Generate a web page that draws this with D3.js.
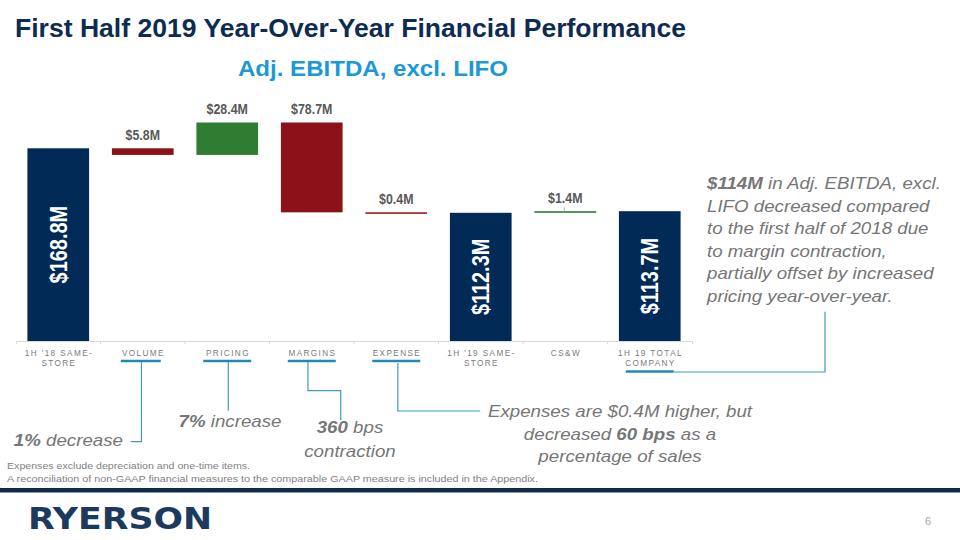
<!DOCTYPE html>
<html>
<head>
<meta charset="utf-8">
<script src="https://cdn.jsdelivr.net/npm/d3@7"></script>
<style>
  html, body { margin: 0; padding: 0; background: #fff; }
  svg { display: block; font-family: "Liberation Sans", Arial, sans-serif; }
</style>
</head>
<body>
<svg id="chart" width="960" height="540"></svg>
<script>
// ---------- DATA ----------
const categories = ["1H '18 SAME-STORE", "VOLUME", "PRICING", "MARGINS", "EXPENSE", "1H '19 SAME-STORE", "CS&W", "1H 19 TOTAL COMPANY"];
const categoryLines = [["1H '18 SAME-", "STORE"], ["VOLUME"], ["PRICING"], ["MARGINS"], ["EXPENSE"], ["1H '19 SAME-", "STORE"], ["CS&W"], ["1H 19 TOTAL", "COMPANY"]];
const barTypes = ["total", "delta", "delta", "delta", "delta", "total", "delta", "total"];
const values = [168.8, -5.8, 28.4, -78.7, -0.4, 112.3, 1.4, 113.7];
const underlined = ["VOLUME", "PRICING", "MARGINS", "EXPENSE", "1H 19 TOTAL COMPANY"];

const titleText = "First Half 2019 Year-Over-Year Financial Performance";
const subtitleText = "Adj. EBITDA, excl. LIFO";
const footnotes = ["Expenses exclude depreciation and one-time items.",
  "A reconciliation of non-GAAP financial measures to the comparable GAAP measure is included in the Appendix."];
const calloutRight = [
  [["$114M", true], [" in Adj. EBITDA, excl.", false]],
  [["LIFO decreased compared", false]],
  [["to the first half of 2018 due", false]],
  [["to margin contraction,", false]],
  [["partially offset by increased", false]],
  [["pricing year-over-year.", false]]
];
const calloutVolume = [[["1%", true], [" decrease", false]]];
const calloutPricing = [[["7%", true], [" increase", false]]];
const calloutMargins = [[["360", true], [" bps", false]], [["contraction", false]]];
const calloutExpense = [
  [["Expenses are $0.4M higher, but", false]],
  [["decreased ", false], ["60 bps", true], [" as a", false]],
  [["percentage of sales", false]]
];

// ---------- STYLE ----------
const NAVY = "#022a56", RED = "#8c1217", GREEN = "#2f7d32";
const GRAY = "#767676", LABEL = "#595959", BLUE = "#2488b6", BLUE2 = "#3a9cc2";

const svg = d3.select("#chart");

// squeeze / stretch text horizontally by factor
function condense(sel, f) {
  sel.each(function () {
    const len = this.getComputedTextLength();
    d3.select(this).attr("textLength", len * f).attr("lengthAdjust", "spacingAndGlyphs");
  });
}

// ---------- SCALES ----------
const x = d3.scaleBand().domain(categories).range([16, 692]).paddingInner(0.27).paddingOuter(0.135);
const y = d3.scaleLinear().domain([0, 175]).range([341, 341 - 175 * 1.1416]);
const cx = c => x(c) + x.bandwidth() / 2;

// waterfall computation
let running = 0;
const bars = categories.map((c, i) => {
  let y0, y1;
  if (barTypes[i] === "total") { y0 = 0; y1 = values[i]; running = values[i]; }
  else { y0 = running; y1 = running + values[i]; running = y1; }
  const color = barTypes[i] === "total" ? NAVY : (values[i] < 0 ? RED : GREEN);
  return { c, i, y0, y1, v: values[i], type: barTypes[i], color };
});

// ---------- TITLES ----------
svg.append("text").attr("x", 15).attr("y", 37).attr("font-size", 25.5).attr("font-weight", "bold")
  .attr("fill", "#0e2c52").attr("textLength", 671).attr("lengthAdjust", "spacingAndGlyphs").text(titleText);
svg.append("text").attr("x", 238).attr("y", 76).attr("font-size", 22).attr("font-weight", "bold")
  .attr("fill", "#1c99d4").attr("textLength", 270).attr("lengthAdjust", "spacingAndGlyphs").text(subtitleText);

// ---------- AXIS ----------
const axisG = svg.append("g").attr("transform", "translate(0,341)")
  .call(d3.axisBottom(x).tickValues([]).tickSizeOuter(3));
axisG.select(".domain").attr("stroke", "#d9d9d9").attr("stroke-width", 1);
const step = x.step();
svg.append("g").selectAll("line").data(categories.slice(1)).join("line")
  .attr("x1", d => x(d) - step * x.paddingInner() / 2).attr("x2", d => x(d) - step * x.paddingInner() / 2)
  .attr("y1", 341).attr("y2", 344).attr("stroke", "#d9d9d9");

// ---------- BARS ----------
svg.append("g").selectAll("rect").data(bars).join("rect")
  .attr("x", d => x(d.c)).attr("width", x.bandwidth())
  .attr("y", d => Math.min(y(d.y0), y(d.y1)))
  .attr("height", d => Math.max(Math.abs(y(d.y0) - y(d.y1)), 1.5))
  .attr("fill", d => d.color);

const fmt = v => "$" + Math.abs(v).toFixed(1) + "M";

// delta labels above
const dl = svg.append("g").selectAll("text").data(bars.filter(d => d.type === "delta")).join("text")
  .attr("x", d => cx(d.c)).attr("y", d => Math.min(y(d.y0), y(d.y1)) - 8)
  .attr("text-anchor", "middle").attr("font-size", 15.5).attr("font-weight", "bold")
  .attr("fill", LABEL).text(d => fmt(d.v));
condense(dl, 0.8);

// small leader for CS&W label
bars.filter(d => d.c === "CS&W").forEach(d => {
  svg.append("line").attr("x1", cx(d.c) - 1).attr("x2", cx(d.c) - 1)
    .attr("y1", Math.min(y(d.y0), y(d.y1)) - 4).attr("y2", Math.min(y(d.y0), y(d.y1)))
    .attr("stroke", "#a6a6a6").attr("stroke-width", 0.8);
});

// total labels inside (rotated)
const tl = svg.append("g").selectAll("text").data(bars.filter(d => d.type === "total")).join("text")
  .attr("transform", d => `translate(${cx(d.c)},${(y(d.y0) + y(d.y1)) / 2}) rotate(-90)`)
  .attr("text-anchor", "middle").attr("dy", "0.36em").attr("font-size", 24).attr("font-weight", "bold")
  .attr("fill", "#fff").text(d => fmt(d.v));
condense(tl, 0.83);

// ---------- CATEGORY LABELS ----------
const catG = svg.append("g");
categories.forEach((c, i) => {
  categoryLines[i].forEach((ln, j) => {
    catG.append("text").attr("x", cx(c) + 0.7).attr("y", 356 + j * 10)
      .attr("text-anchor", "middle").attr("font-size", 8.2).attr("letter-spacing", 1.4)
      .attr("fill", "#7a7a7a").text(ln);
  });
});

// underlines
underlined.forEach(c => {
  const i = categories.indexOf(c);
  const ly = 361 + (categoryLines[i].length - 1) * 10.5;
  const hw = c === "VOLUME" ? 20 : 24;
  const off = c === "VOLUME" ? 2 : 0;
  svg.append("line").attr("x1", cx(c) - hw - off).attr("x2", cx(c) + hw - off)
    .attr("y1", ly).attr("y2", ly).attr("stroke", BLUE).attr("stroke-width", 2.4);
});

// connectors
function conn(points) {
  svg.append("path").attr("d", d3.line()(points)).attr("fill", "none")
    .attr("stroke", BLUE2).attr("stroke-width", 1.2);
}
const cV = cx("VOLUME"), cP = cx("PRICING"), cM = cx("MARGINS"), cE = cx("EXPENSE"), cT = cx("1H 19 TOTAL COMPANY");
conn([[cV - 1.3, 362], [cV - 1.3, 441.7], [cV - 12, 441.7]]);
conn([[cP + 1, 362], [cP + 1, 410.7]]);
conn([[cM - 3.8, 362], [cM - 3.8, 390.7], [cM + 29, 390.7], [cM + 29, 420]]);
conn([[cE + 1.6, 363], [cE + 1.6, 411], [cE + 84, 411]]);
conn([[cT + 24, 372], [825, 372], [825, 311.7]]);

// ---------- CALLOUT TEXT ----------
function rich(lines, xPos, y0, lh, anchor, size, stretch) {
  lines.forEach((segs, k) => {
    const t = svg.append("text").attr("x", xPos).attr("y", y0 + k * lh)
      .attr("text-anchor", anchor).attr("font-size", size).attr("font-style", "italic").attr("fill", GRAY);
    segs.forEach(([s, b]) => {
      t.append("tspan").attr("font-weight", b ? "bold" : "normal").text(s);
    });
    condense(t, stretch);
  });
}
rich(calloutVolume, 123, 446, 22, "end", 17, 1.1);
rich(calloutPricing, 230, 427, 22, "middle", 17, 1.1);
rich(calloutMargins, 350, 433, 23.5, "middle", 17, 1.1);
rich(calloutExpense, 620, 417, 22.5, "middle", 17, 1.1);
rich(calloutRight, 707, 189, 22.6, "start", 17, 1.1);

// ---------- FOOTNOTES ----------
svg.append("text").attr("x", 7).attr("y", 469).attr("font-size", 9.5).attr("fill", "#7f7f7f")
  .attr("textLength", 243).attr("lengthAdjust", "spacingAndGlyphs").text(footnotes[0]);
svg.append("text").attr("x", 7).attr("y", 481.5).attr("font-size", 9.5).attr("fill", "#7f7f7f")
  .attr("textLength", 531).attr("lengthAdjust", "spacingAndGlyphs").text(footnotes[1]);

// ---------- FOOTER ----------
svg.append("rect").attr("x", 0).attr("y", 488).attr("width", 960).attr("height", 4.5).attr("fill", "#0f2b4c");
svg.append("text").attr("x", 28).attr("y", 529).attr("font-family", "DejaVu Sans, sans-serif")
  .attr("font-size", 30).attr("font-weight", "bold").attr("fill", "#1c3a5e")
  .attr("textLength", 184).attr("lengthAdjust", "spacingAndGlyphs").text("RYERSON");
svg.append("text").attr("x", 928).attr("y", 525).attr("text-anchor", "middle")
  .attr("font-size", 11).attr("fill", "#a6a6a6").text("6");
</script>
</body>
</html>
